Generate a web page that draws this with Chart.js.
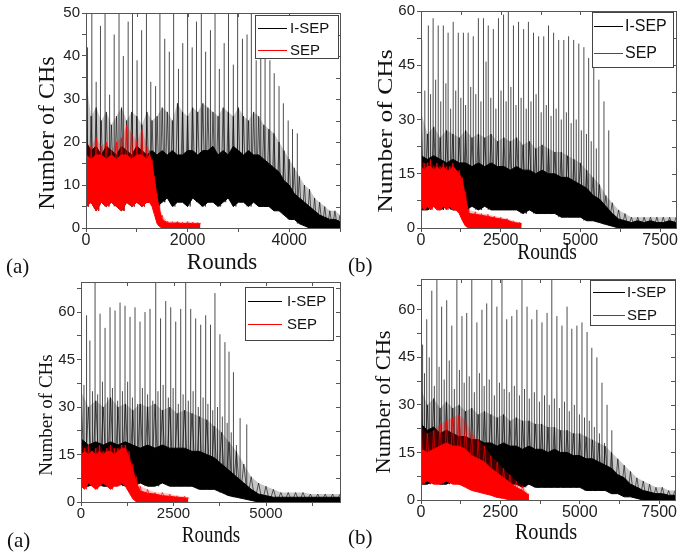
<!DOCTYPE html>
<html>
<head>
<meta charset="utf-8">
<title>Number of CHs vs Rounds</title>
<script src="https://cdn.jsdelivr.net/npm/chart.js@4.4.1/dist/chart.umd.min.js"></script>
<style>
	html, body { margin: 0; padding: 0; background: #fff; }
	#page { position: relative; width: 697px; height: 552px; overflow: hidden; }
	#page canvas { position: absolute; left: 0; top: 0; }
</style>
</head>
<body>
<div id="page">
	<canvas id="chartA" width="697" height="552"></canvas>
	<canvas id="chartB" width="697" height="552"></canvas>
	<canvas id="chartC" width="697" height="552"></canvas>
	<canvas id="chartD" width="697" height="552"></canvas>
</div>
<script>
// ---- panel (a), top left ----
const roundsA = [0,100,200,300,400,500,600,700,800,900,1000,1100,1200,1300,1400,1500,1600,1700,1800,1900,2000,2100,2200,2300,2400,2500,2600,2700,2800,2900,3000,3100,3200,3300,3400,3500,3600,3700,3800,3900,4000,4100,4200,4300,4400,4500,4600,4700,4800,4900,5000];
const isepHiA = [20,18,19,17,19,18,17,19,18,17,19,18,17,18,17,18,17,18,17,17,18,18,17,18,18,19,17,18,17,19,18,17,18,17,17,16,15,14,13,11,10,8,7,6,5,4,3,2.5,2,2,1.5];
const isepLoA = [5,6,4,6,5,6,5,4,6,5,6,5,6,6,5,6,7,5,6,6,5,7,6,5,6,6,5,6,7,5,6,6,5,6,5,5,5,4,4,3,2,2,1,0.5,0,0,0,0,0,0,0];
const isepPeakA = [34,26,28,25,27,24,26,28,25,27,26,24,27,25,26,28,27,25,29,27,26,28,27,29,28,27,26,28,27,26,28,26,25,27,26,24,23,22,20,18,16,14,12,10,9,7,6,5,4,4,3];
const spikeRoundsA = [30,115,200,285,375,465,555,650,735,830,915,1005,1095,1190,1275,1370,1455,1550,1640,1725,1820,1905,2000,2090,2175,2270,2355,2450,2540,2625,2720,2805,2900,2985,3080,3170,3255,3350,3440,3525,3620,3705,3800,3885,3980,4065,4160];
const spikeHeightsA = [42,52,34,47,52,31,45,52,40,48,52,39,46,52,34,33,52,44,41,52,37,43,52,42,48,52,41,46,52,37,43,52,38,52,44,45,52,39,46,40,39,36,33,29,25,23,22];
const sepRoundsA = [0,100,200,300,400,500,600,700,800,900,1000,1100,1200,1250,1300,1350,1400,1450,1500,1600,1700,1800,1900,2000,2100,2200,2250];
const sepHiA = [17,16,17,17,16,17,16,17,17,16,17,17,16,17,15,11,7,4,2,1.2,1.1,1.2,1,1.1,1,1,1];
const sepLoA = [5,6,4,6,5,6,5,4,6,5,6,5,6,6,5,3,1,0.3,0,0,0,0,0,0,0,0,0];
const sepPeakA = [20,19,21,19,20,18,20,21,24,22,20,23,19,18,16,12,8,5,3,1.6,1.5,1.5,1.4,1.5,1.4,1.3,1.2];

// ---- panel (b), top right ----
const roundsB = [0,200,400,600,800,1000,1200,1400,1600,1800,2000,2200,2400,2600,2800,3000,3200,3400,3600,3800,4000,4200,4400,4600,4800,5000,5200,5400,5600,5800,6000,6200,6400,6600,6800,7000,7200,7400,7600,7800,8000];
const isepHiB = [20,19,20,19,18,19,18,18,17,18,17,18,17,17,16,17,16,16,15,16,15,15,14,14,13,12,11,9,8,6,4,2.5,2,1.5,2,1.5,2,1.5,1.5,2,1.5];
const isepLoB = [5,5,6,5,6,5,5,5,6,5,6,5,5,5,5,5,4,5,4,4,4,4,3,3,3,3,2,2,1.5,1,0.5,0,0,0,0,0,0,0,0,0,0];
const isepPeakB = [32,26,28,25,27,26,25,27,25,26,25,26,24,25,24,25,23,24,22,23,22,21,21,20,19,18,16,14,12,9,7,5,4,3,3,3,3,3,3,3,3];
const spikeRoundsB = [20,230,380,540,700,850,1010,1170,1330,1480,1640,1800,1960,2110,2270,2430,2590,2740,2900,3060,3220,3370,3530,3690,3850,4000,4160,4320,4480,4630,4790,4950,5110,5260,5420,5580,5740,5890,
	120,300,460,620,780,930,1090,1250,1400,1560,1720,1880,2040,2190,2350,2510,2670,2820,2980,3140,3300,3450,3610,3770,3930,4080,4240,4400,4560,4710,4870,5030,5190,5340,5500];
const spikeHeightsB = [52,56,58,56,56,54,57,54,54,54,53,58,58,56,55,58,59,60,56,57,55,57,54,53,53,56,54,52,52,53,52,51,50,47,45,41,35,27,
	38,37,41,35,40,33,38,36,34,39,37,35,46,36,33,38,35,39,34,36,33,35,37,32,34,31,33,30,32,29,30,27,26,24,22];
const sepRoundsB = [0,100,200,300,400,500,600,700,800,900,1000,1100,1200,1300,1400,1500,1700,1900,2100,2300,2500,2700,2900,3100,3150];
const sepHiB = [17,16,17,17,16,17,16,17,16,16,17,16,15,13,8,4,3.8,3.5,3.2,2.8,2.5,2.2,1.5,1.3,1.2];
const sepLoB = [6,5,6,5,6,5,5,6,5,6,5,5,4,2,0.5,0,0,0,0,0,0,0,0,0,0];
const sepPeakB = [19,18,18,19,17,18,17,18,17,17,18,16,16,14,10,5,4.5,4,3.8,3.3,3,2.6,2,1.6,1.3];

// ---- panel (a), bottom left ----
const roundsC = [0,200,400,600,800,1000,1200,1400,1600,1800,2000,2200,2400,2600,2800,3000,3200,3400,3600,3800,4000,4200,4400,4600,4800,5000,5200,5400,5600,5800,6000,6200,6400,6600,6800,7000];
const isepHiC = [20,18,19,18,19,18,19,18,17,18,17,18,17,17,17,16,16,15,14,12,10,8,6,4,2.5,2,1.5,1.5,1.5,1.5,1.5,1.5,1.5,1.5,1.5,1.5];
const isepLoC = [5,5,6,5,5,6,5,5,6,5,5,6,5,5,5,5,4,4,4,3,2,1.5,1,0.5,0,0,0,0,0,0,0,0,0,0,0,0];
const isepPeakC = [35,30,32,30,33,30,31,29,31,30,31,29,30,28,29,28,27,26,24,22,19,16,12,8,6,5,4,3,3,3,3,2.5,2.5,2.5,2.5,2.5];
const spikeRoundsC = [10,150,240,380,515,650,785,920,1055,1190,1325,1460,1595,1730,1865,2020,2150,2290,2425,2560,2695,2830,2965,3100,3235,3370,3500,3620,3755,3890,4000,4120,4300,4480,
	80,310,450,580,720,850,990,1120,1260,1390,1530,1660,1800,1940,2080,2220,2360,2490,2630,2760,2900,3030,3170,3300,3430,3560,3690,3820,3950,4060,4200];
const spikeHeightsC = [66,59,51,72,59.5,55,61.5,60.5,63,62,58.5,61.5,57,60,61,72,58,63.5,61.5,57,61,72,61,58,56,59,56,66,53,50.5,47.5,41,26.5,24.5,
	37,35,34,38,33,36,32,35,38,33,31,36,34,32,35,37,33,36,31,34,32,35,30,33,31,29,30,27,25,22,18];
const sepRoundsC = [0,100,200,300,400,500,600,700,800,900,1000,1100,1200,1300,1400,1500,1600,1800,2000,2200,2400,2600,2800,2900];
const sepHiC = [15,16,15,16,15,16,15,16,16,15,16,17,17,14,10,6,3.5,2.8,2.5,2,1.8,1.5,1.3,1.2];
const sepLoC = [5,4,6,5,4,5,6,5,4,5,5,6,5,3,1,0,0,0,0,0,0,0,0,0];
const sepPeakC = [18,17,18,16,17,18,16,17,18,17,17,18,18,16,12,8,5,4,3,3,2.5,2,1.8,1.5];

// ---- panel (b), bottom right ----
const roundsD = [0,200,400,600,800,1000,1200,1400,1600,1800,2000,2200,2400,2600,2800,3000,3200,3400,3600,3800,4000,4200,4400,4600,4800,5000,5200,5400,5600,5800,6000,6200,6400,6600,6800,7000,7200,7400,7600,7800,8000];
const isepHiD = [24,22,23,21,22,21,20,20,19,19,18,18,17,18,17,17,16,17,16,16,15,16,15,15,14,14,13,13,12,11,10,8,7,5,4,3,2.5,2,2,1.5,1.5];
const isepLoD = [5,5,6,5,5,6,5,5,5,6,5,5,5,5,5,5,4,5,4,4,4,4,4,4,4,4,3,3,3,3,2,2,1,1,0.5,0,0,0,0,0,0];
const isepPeakD = [35,30,32,29,31,29,30,28,29,27,28,27,26,27,25,26,25,25,24,24,23,23,22,22,21,21,20,19,18,17,15,13,11,9,7,6,5,4,4,3,3];
const spikeRoundsD = [50,180,340,500,650,810,970,1130,1290,1440,1600,1760,1920,2070,2230,2390,2550,2700,2860,3020,3180,3340,3490,3650,3810,3970,4120,4280,4440,4600,4750,4910,5070,5230,5380,5540,5700,5860,6010,
	110,260,420,570,730,890,1050,1210,1360,1520,1680,1840,1990,2150,2310,2470,2620,2780,2940,3100,3260,3410,3570,3730,3890,4040,4200,4360,4520,4670,4830,4990,5150,5300,5460,5620,5780];
const spikeHeightsD = [49,57,66,72,61,63,55,72,58,59,72,56,60,62,72,61,72,57,58,60,72,61,57,60,56,59,72,58,55,61,54,55,56,53,48,45,37,30,22,
	40,45,36,42,38,44,35,41,37,39,34,40,36,38,33,37,35,34,36,33,35,32,34,31,33,30,32,29,31,28,30,27,26,25,23,21,18];
const sepRoundsD = [0,200,400,600,800,1000,1200,1400,1600,1800,2000,2200,2400,2600,2800,3000,3200,3400];
const sepHiD = [16,15,16,17,18,17,17,16,14,13,12,10,8.5,7,5.5,4,3,1.5];
const sepLoD = [5,6,5,5,6,5,5,4,3,2.5,2,1.5,0.8,0.5,0,0,0,0];
const sepPeakD = [23,21,22,24,25,26,27,25,21,19,17,14,12,10,8,6,4.5,2];

// ---- axis ticks ----
const xTicksA = [0, 2000, 4000];
const xMinorA = [1000, 3000, 5000];
const xTicks8k = [0, 2500, 5000, 7500];
const xTicks7k = [0, 2500, 5000];
const xMinor25 = [1250, 3750, 6250];
const yTicksA = [0, 10, 20, 30, 40, 50];
const yMinorA = [5, 15, 25, 35, 45];
const yTicks60 = [0, 15, 30, 45, 60];
const yMinor60 = [7.5, 22.5, 37.5, 52.5, 67.5];

const PAGE_W = 697, PAGE_H = 552;
const Y_AXIS_W = 40, X_AXIS_H = 30;
const SANS = "'Liberation Sans', Arial, sans-serif";
const SERIF = "'Liberation Serif', 'Times New Roman', serif";

function toPoints(xs, ys) {
	return xs.map((x, i) => ({ x: x, y: ys[i] }));
}

// dense noise: up to the peak value, back down to the lower edge
function zigzag(xs, top, bottom) {
	const pts = [];
	for (let i = 0; i < xs.length; i++) {
		pts.push({ x: xs[i], y: top[i] });
		if (i < xs.length - 1) pts.push({ x: (xs[i] + xs[i + 1]) / 2, y: bottom[i] });
	}
	return pts;
}

// lower edge of the band at the closest sampled round
function lowerEdgeAt(xs, lo, x) {
	let best = 0;
	xs.forEach((r, i) => { if (Math.abs(r - x) < Math.abs(xs[best] - x)) best = i; });
	return lo[best];
}

// each spike is its own vertical segment, nulls break the line
function spikeSegments(xs, hs, rounds, lo) {
	const pts = [];
	xs.forEach((x, i) => {
		pts.push({ x: x, y: lowerEdgeAt(rounds, lo, x) }, { x: x, y: hs[i] }, { x: x, y: null });
	});
	return pts;
}

const framePlugin = {
	id: 'frame',
	afterDatasetsDraw(chart) {
		const { ctx, chartArea: a } = chart;
		ctx.save();
		ctx.strokeStyle = '#555';
		ctx.lineWidth = 1;
		ctx.strokeRect(Math.round(a.left) + 0.5, Math.round(a.top) + 0.5, Math.round(a.right - a.left), Math.round(a.bottom - a.top));
		// mirrored inward ticks on top and right
		ctx.beginPath();
		chart.scales.x.ticks.forEach(t => {
			const px = Math.round(chart.scales.x.getPixelForValue(t.value)) + 0.5;
			ctx.moveTo(px, a.top); ctx.lineTo(px, a.top + 4);
		});
		chart.scales.y.ticks.forEach(t => {
			const py = Math.round(chart.scales.y.getPixelForValue(t.value)) + 0.5;
			ctx.moveTo(a.right, py); ctx.lineTo(a.right - 4, py);
		});
		ctx.stroke();
		ctx.restore();
	}
};

function drawText(ctx, t, rotate) {
	ctx.save();
	ctx.translate(t.x, t.y);
	if (rotate) ctx.rotate(-Math.PI / 2);
	ctx.scale(t.stretch || 1, 1);
	ctx.font = t.size + 'px ' + SERIF;
	ctx.fillStyle = '#111';
	ctx.textAlign = t.align || 'center';
	ctx.textBaseline = 'middle';
	ctx.fillText(t.text, 0, 0);
	ctx.restore();
}

const panelTextPlugin = {
	id: 'panelText',
	afterDraw(chart, args, opts) {
		const ctx = chart.ctx;
		drawText(ctx, opts.yTitle, true);
		drawText(ctx, opts.xTitle, false);
		drawText(ctx, opts.tag, false);
	}
};

const boxLegendPlugin = {
	id: 'boxLegend',
	afterDraw(chart, args, opts) {
		const ctx = chart.ctx;
		ctx.save();
		ctx.fillStyle = '#fff';
		ctx.fillRect(opts.x, opts.y, opts.w, opts.h);
		ctx.strokeStyle = '#444';
		ctx.lineWidth = 1;
		ctx.strokeRect(opts.x + 0.5, opts.y + 0.5, opts.w, opts.h);
		const items = chart.data.datasets.filter(d => d.label);
		ctx.font = opts.size + 'px ' + SANS;
		ctx.textBaseline = 'middle';
		ctx.textAlign = 'left';
		items.forEach((d, i) => {
			const y = opts.rows[i];
			ctx.fillStyle = d.borderColor;
			ctx.fillRect(opts.lineFrom, y, opts.lineTo - opts.lineFrom, 1);
			ctx.fillStyle = '#111';
			ctx.fillText(d.label, opts.textX, y + 1);
		});
		ctx.restore();
	}
};

function makePanel(canvasId, p) {
	const datasets = [
		{ label: 'I-SEP', data: toPoints(p.rounds, p.isepHi), borderColor: '#000000', backgroundColor: '#000', fill: '+1', order: 3 },
		{ label: '', data: toPoints(p.rounds, p.isepLo), borderColor: '#000', fill: false, order: 3 },
		{ label: '', data: spikeSegments(p.spikeRounds, p.spikeHeights, p.rounds, p.isepLo), borderColor: 'rgba(0,0,0,0.7)', fill: false, order: 4 },
		{ label: '', data: zigzag(p.rounds, p.isepPeak, p.isepLo), borderColor: 'rgba(0,0,0,0.6)', fill: false, order: 5 },
		{ label: '', data: toPoints(p.rounds, p.isepPeak), borderColor: 'rgba(0,0,0,0)', backgroundColor: 'rgba(0,0,0,0.22)', fill: 0, order: 6 },
		{ label: 'SEP', data: toPoints(p.sepRounds, p.sepHi), borderColor: '#ff0000', backgroundColor: '#ff0000', fill: '+1', order: 1 },
		{ label: '', data: toPoints(p.sepRounds, p.sepLo), borderColor: '#ff0000', fill: false, order: 1 },
		{ label: '', data: zigzag(p.sepRounds, p.sepPeak, p.sepLo), borderColor: 'rgba(255,0,0,0.65)', fill: false, order: 2 },
		{ label: '', data: toPoints(p.sepRounds, p.sepPeak), borderColor: 'rgba(255,0,0,0)', backgroundColor: 'rgba(255,0,0,0.25)', fill: 5, order: 2 }
	];
	const yFont = { family: SANS, size: 15 };
	const xFont = { family: SANS, size: p.xFontSize };
	return new Chart(document.getElementById(canvasId).getContext('2d'), {
		type: 'line',
		data: { datasets: datasets },
		options: {
			responsive: false,
			animation: false,
			events: [],
			layout: {
				padding: {
					left: p.area.left - Y_AXIS_W,
					right: PAGE_W - p.area.right,
					top: p.area.top,
					bottom: PAGE_H - p.area.bottom - X_AXIS_H
				}
			},
			elements: {
				point: { radius: 0 },
				line: { borderWidth: 1, tension: 0 }
			},
			scales: {
				x: {
					type: 'linear',
					min: 0,
					max: p.xMax,
					afterFit: s => { s.height = X_AXIS_H; },
					afterBuildTicks: s => { s.ticks = p.xTicks.concat(p.xMinor).map(v => ({ value: v })); },
					ticks: {
						autoSkip: false, maxRotation: 0, padding: -1, color: '#222', font: xFont,
						callback: v => p.xTicks.includes(v) ? String(v) : ''
					},
					grid: { drawOnChartArea: false, tickLength: 4, color: '#555' },
					border: { display: false }
				},
				y: {
					type: 'linear',
					min: 0,
					max: p.yMax,
					afterFit: s => { s.width = Y_AXIS_W; },
					afterBuildTicks: s => { s.ticks = p.yTicks.concat(p.yMinor).filter(v => v <= p.yMax).map(v => ({ value: v })); },
					ticks: {
						autoSkip: false, padding: 2, color: '#222', font: yFont,
						callback: v => p.yTicks.includes(v) ? String(v) : ''
					},
					grid: { drawOnChartArea: false, tickLength: 4, color: '#555' },
					border: { display: false }
				}
			},
			plugins: {
				legend: { display: false },
				tooltip: { enabled: false },
				panelText: p.text,
				boxLegend: p.legend
			}
		},
		plugins: [framePlugin, panelTextPlugin, boxLegendPlugin]
	});
}

makePanel('chartA', {
	area: { left: 86, top: 13, right: 340, bottom: 228 },
	xMax: 5000, yMax: 50, xFontSize: 16,
	xTicks: xTicksA, xMinor: xMinorA, yTicks: yTicksA, yMinor: yMinorA,
	rounds: roundsA, isepHi: isepHiA, isepLo: isepLoA, isepPeak: isepPeakA,
	spikeRounds: spikeRoundsA, spikeHeights: spikeHeightsA,
	sepRounds: sepRoundsA, sepHi: sepHiA, sepLo: sepLoA, sepPeak: sepPeakA,
	text: {
		yTitle: { text: 'Number of CHs', x: 48, y: 133, size: 24 },
		xTitle: { text: 'Rounds', x: 222, y: 263, size: 23 },
		tag: { text: '(a)', x: 6, y: 267, size: 21, align: 'left' }
	},
	legend: { x: 255, y: 15, w: 83, h: 43, rows: [28, 50], lineFrom: 258, lineTo: 287, textX: 290, size: 15 }
});

makePanel('chartB', {
	area: { left: 421, top: 10, right: 676, bottom: 228 },
	xMax: 8000, yMax: 60, xFontSize: 16,
	xTicks: xTicks8k, xMinor: xMinor25, yTicks: yTicks60, yMinor: yMinor60,
	rounds: roundsB, isepHi: isepHiB, isepLo: isepLoB, isepPeak: isepPeakB,
	spikeRounds: spikeRoundsB, spikeHeights: spikeHeightsB,
	sepRounds: sepRoundsB, sepHi: sepHiB, sepLo: sepLoB, sepPeak: sepPeakB,
	text: {
		yTitle: { text: 'Number of CHs', x: 386, y: 131, size: 21, stretch: 1.22 },
		xTitle: { text: 'Rounds', x: 547, y: 253, size: 23, stretch: 0.85 },
		tag: { text: '(b)', x: 348, y: 266, size: 21, align: 'left' }
	},
	legend: { x: 592, y: 12, w: 81, h: 55, rows: [26, 53], lineFrom: 594, lineTo: 623, textX: 625, size: 16 }
});

makePanel('chartC', {
	area: { left: 81, top: 282, right: 340, bottom: 502 },
	xMax: 7000, yMax: 69.5, xFontSize: 15,
	xTicks: xTicks7k, xMinor: xMinor25, yTicks: yTicks60, yMinor: yMinor60,
	rounds: roundsC, isepHi: isepHiC, isepLo: isepLoC, isepPeak: isepPeakC,
	spikeRounds: spikeRoundsC, spikeHeights: spikeHeightsC,
	sepRounds: sepRoundsC, sepHi: sepHiC, sepLo: sepLoC, sepPeak: sepPeakC,
	text: {
		yTitle: { text: 'Number of CHs', x: 47, y: 415, size: 19 },
		xTitle: { text: 'Rounds', x: 211, y: 536, size: 23, stretch: 0.83 },
		tag: { text: '(a)', x: 7, y: 541, size: 21, align: 'left' }
	},
	legend: { x: 245, y: 287, w: 88, h: 53, rows: [301, 324], lineFrom: 248, lineTo: 282, textX: 287, size: 15 }
});

makePanel('chartD', {
	area: { left: 421, top: 279, right: 675, bottom: 500 },
	xMax: 8000, yMax: 69.7, xFontSize: 16,
	xTicks: xTicks8k, xMinor: xMinor25, yTicks: yTicks60, yMinor: yMinor60,
	rounds: roundsD, isepHi: isepHiD, isepLo: isepLoD, isepPeak: isepPeakD,
	spikeRounds: spikeRoundsD, spikeHeights: spikeHeightsD,
	sepRounds: sepRoundsD, sepHi: sepHiD, sepLo: sepLoD, sepPeak: sepPeakD,
	text: {
		yTitle: { text: 'Number of CHs', x: 385, y: 402, size: 20, stretch: 1.12 },
		xTitle: { text: 'Rounds', x: 546, y: 533, size: 23, stretch: 0.89 },
		tag: { text: '(b)', x: 348, y: 538, size: 21, align: 'left' }
	},
	legend: { x: 590, y: 280, w: 85, h: 45, rows: [292, 315], lineFrom: 593, lineTo: 625, textX: 627, size: 15 }
});
</script>
</body>
</html>
